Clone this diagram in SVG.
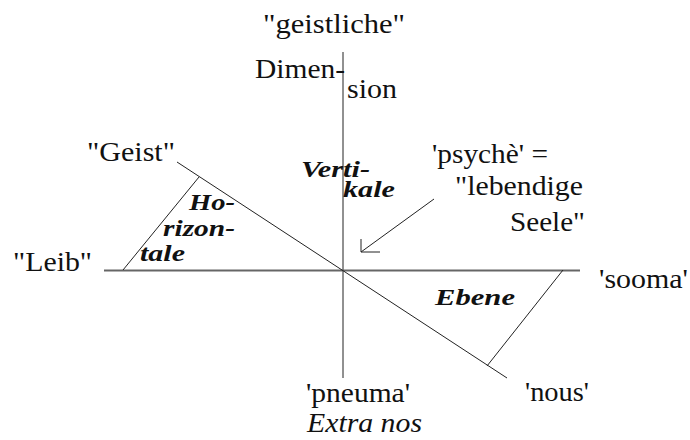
<svg xmlns="http://www.w3.org/2000/svg" width="690" height="440" viewBox="0 0 690 440">
<style>
text{font-family:"Liberation Serif","Times New Roman",Times,Tinos,"Noto Serif","DejaVu Serif","Nimbus Roman","Nimbus Roman No9 L",FreeSerif,serif;fill:#111}
.t{font-size:28px}
.bi{font-size:24px;font-weight:bold;font-style:italic}
.it{font-size:28px;font-style:italic}
.ln{stroke:#222;stroke-width:1;fill:none}
.axis{stroke:#666;stroke-width:1.8;fill:none}
</style>
<rect width="690" height="440" fill="#fff"/>
<g id="connectors">
<line class="ln" x1="343" y1="52" x2="343" y2="378"/>
<line class="axis" x1="104" y1="270.5" x2="580" y2="270.5"/>
<line class="ln" x1="177" y1="162" x2="507" y2="378"/>
<line class="ln" x1="123" y1="270" x2="199" y2="177"/>
<line class="ln" x1="563" y1="270" x2="487" y2="366"/>
<path class="ln" d="M434,199 L361,252 M380,252 L361,252 L361,239"/>
</g>
<g id="geistliche"><text class="t" x="263" y="33" textLength="142" lengthAdjust="spacingAndGlyphs" font-family="Liberation Serif, serif">"geistliche"</text></g>
<g id="dimension">
<text class="t" x="255" y="78" textLength="90" lengthAdjust="spacingAndGlyphs">Dimen-</text>
<text class="t" x="347" y="98" textLength="50" lengthAdjust="spacingAndGlyphs">sion</text>
</g>
<g id="geist"><text class="t" x="87" y="161" textLength="88" lengthAdjust="spacingAndGlyphs">"Geist"</text></g>
<g id="leib"><text class="t" x="13" y="271" textLength="79" lengthAdjust="spacingAndGlyphs">"Leib"</text></g>
<g id="sooma"><text class="t" x="599" y="288" textLength="89" lengthAdjust="spacingAndGlyphs">'sooma'</text></g>
<g id="psyche">
<text class="t" x="432" y="163" textLength="116" lengthAdjust="spacingAndGlyphs">'psychè' =</text>
<text class="t" x="455" y="195" textLength="128" lengthAdjust="spacingAndGlyphs">"lebendige</text>
<text class="t" x="510" y="231" textLength="75" lengthAdjust="spacingAndGlyphs">Seele"</text>
</g>
<g id="pneuma">
<text class="t" x="306" y="402" textLength="104" lengthAdjust="spacingAndGlyphs">'pneuma'</text>
<text class="it" x="307" y="432" textLength="115" lengthAdjust="spacingAndGlyphs">Extra nos</text>
</g>
<g id="nous"><text class="t" x="525" y="401" textLength="64" lengthAdjust="spacingAndGlyphs">'nous'</text></g>
<g id="vertikale">
<text class="bi" x="301" y="177" textLength="69" lengthAdjust="spacingAndGlyphs">Verti-</text>
<text class="bi" x="343" y="197" textLength="52" lengthAdjust="spacingAndGlyphs">kale</text>
</g>
<g id="horizontale">
<text class="bi" x="189" y="210" textLength="46" lengthAdjust="spacingAndGlyphs">Ho-</text>
<text class="bi" x="163" y="236" textLength="72" lengthAdjust="spacingAndGlyphs">rizon-</text>
<text class="bi" x="140" y="261" textLength="45" lengthAdjust="spacingAndGlyphs">tale</text>
</g>
<g id="ebene"><text class="bi" x="435" y="305" textLength="80" lengthAdjust="spacingAndGlyphs">Ebene</text></g>
</svg>
